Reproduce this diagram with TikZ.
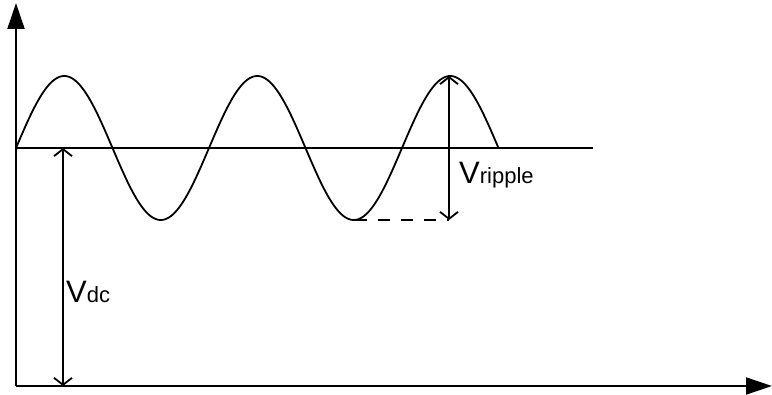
\documentclass[tikz,border=0pt]{standalone}
\usepackage{fontspec}
\setmainfont{Liberation Sans}
\usetikzlibrary{arrows.meta}
\tikzset{
  axis/.style={line width=2pt, -{Triangle[length=26pt,width=17pt]}},
  meas/.style={line width=1.8pt, {Straight Barb[length=7pt,width=18pt]}-{Straight Barb[length=7pt,width=18pt]}},
  wave/.style={line width=1.8pt},
  midline/.style={line width=1.8pt},
  dashline/.style={line width=1.8pt, dash pattern=on 12pt off 11pt},
  lbl/.style={anchor=base west, inner sep=0pt}
}
\begin{document}
\begin{tikzpicture}[x=1pt,y=-1pt]
\useasboundingbox (0,0) rectangle (772,395);
\coordinate (O) at (16,386);
\coordinate (T) at (16,3);
\coordinate (R) at (772,386);
\coordinate (M0) at (16,148);
\coordinate (M1) at (593,148);
\coordinate (P3) at (449,76);
\coordinate (B3) at (449,220);
\coordinate (TR) at (355,220);
\coordinate (D0) at (63,148);
\coordinate (D1) at (63,386);
\draw[axis] (O) -- (T);
\draw[axis] (O) -- (R);
\draw[midline] (M0) -- (M1);
\draw[wave] plot[domain=0:482.5, samples=300, smooth] ({16+\x}, {148-72*sin(\x/193*360)});
\draw[dashline] (TR) -- (B3);
\draw[meas] (P3) -- (B3);
\draw[meas] (D0) -- (D1);
\node[lbl] (vr) at (459,184) {\fontsize{31}{31}\selectfont V\fontsize{22}{22}\selectfont ripple};
\node[lbl] (vd) at (66,303) {\fontsize{31}{31}\selectfont V\fontsize{22}{22}\selectfont dc};
\end{tikzpicture}
\end{document}
